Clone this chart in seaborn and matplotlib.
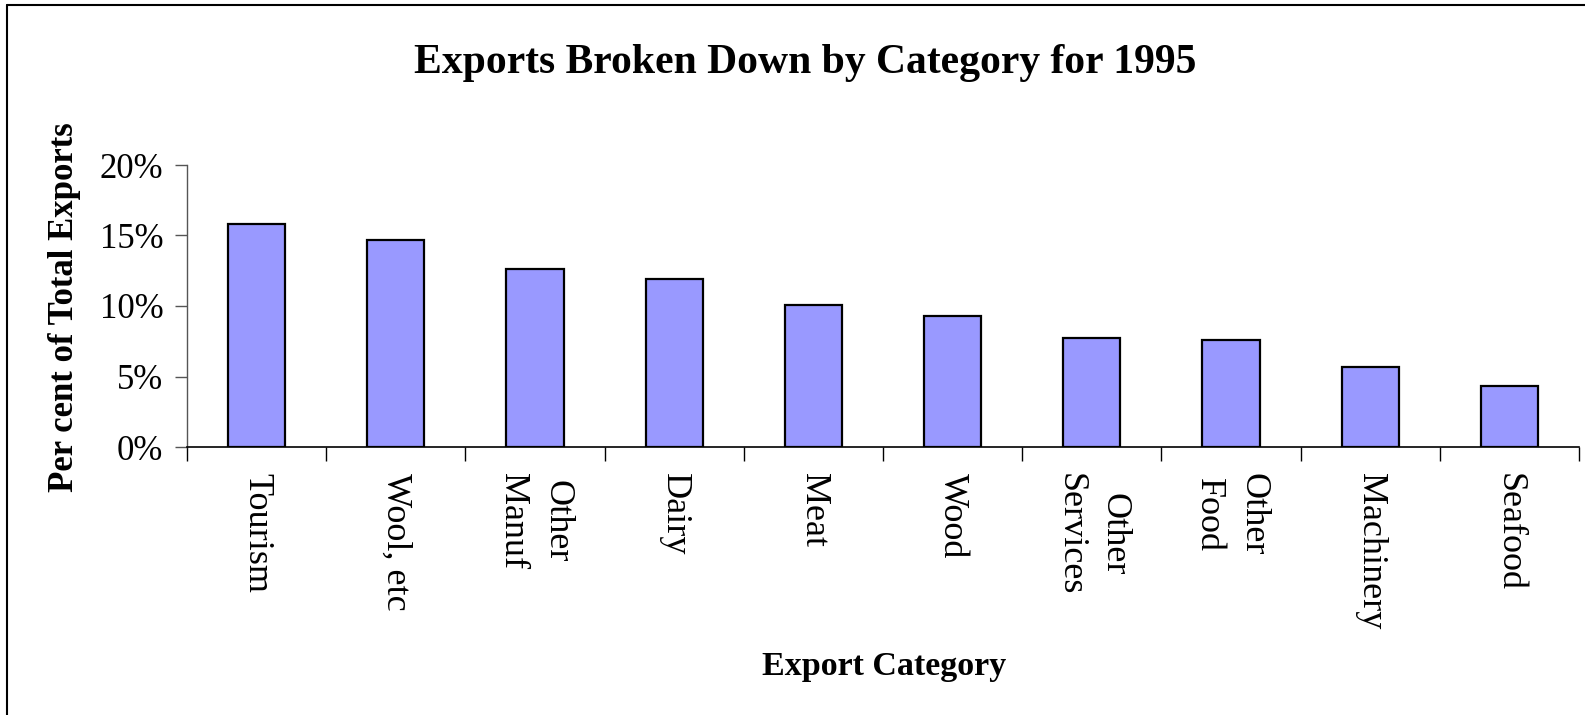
import matplotlib
matplotlib.use("Agg")
import matplotlib.pyplot as plt
from matplotlib.lines import Line2D
from matplotlib.ticker import FuncFormatter
import seaborn as sns
import pandas as pd
import numpy as np

categories = ["Tourism", "Wool, etc", "Other\nManuf", "Dairy", "Meat", "Wood",
              "Other\nServices", "Other\nFood", "Machinery", "Seafood"]
values = [15.8, 14.7, 12.6, 11.9, 10.1, 9.3, 7.7, 7.6, 5.7, 4.3]
y_ticks = [0, 5, 10, 15, 20]

sns.set_theme(style="white")
plt.rcParams["font.family"] = ["Liberation Serif", "DejaVu Serif"]
plt.rcParams["text.color"] = "black"
plt.rcParams["xtick.color"] = "black"
plt.rcParams["ytick.color"] = "black"
plt.rcParams["axes.labelcolor"] = "black"

df = pd.DataFrame({"category": categories, "value": values})

W, H = 1585, 715
fig = plt.figure(figsize=(W / 100, H / 100), dpi=100)
ax = fig.add_axes([187 / W, 1 - 447 / H, (1579 - 187) / W, (447 - 165) / H])

sns.barplot(data=df, x="category", y="value", ax=ax, color="#9999FF",
            saturation=1, width=0.41, edgecolor="black", linewidth=1.6)

ax.set_xlim(-0.5, len(categories) - 0.5)
ax.set_ylim(0, 20)
ax.set_yticks(y_ticks)
ax.yaxis.set_major_formatter(FuncFormatter(lambda v, p: f"{v:.0f}%"))

n = len(categories)
ax.set_xticks(np.arange(n + 1) - 0.5)
ax.set_xticklabels([""] * (n + 1))
ax.set_xticks(np.arange(n), minor=True)
ax.set_xticklabels(categories, minor=True, rotation=270, fontsize=26,
                   ha="center", va="top", multialignment="center", linespacing=1.45)
ax.tick_params(axis="x", which="major", length=10, width=1, color="black", direction="out", bottom=True)
ax.tick_params(axis="x", which="minor", length=0, pad=19)
ax.tick_params(axis="y", which="major", length=9, width=1, color="#555555",
               direction="out", left=True, labelsize=25, pad=8)

for s in ["top", "right"]:
    ax.spines[s].set_visible(False)
ax.spines["left"].set_color("#555555")
ax.spines["left"].set_linewidth(1)
ax.spines["bottom"].set_color("black")
ax.spines["bottom"].set_linewidth(1.2)

ax.set_xlabel("")
ax.set_ylabel("")
fig.text(884 / W, 1 - 667 / H, "Export Category", ha="center", va="center",
         fontsize=24.5, fontweight="bold", color="black")
fig.text(65 / W, 1 - 307 / H, "Per cent of Total Exports", ha="center", va="center",
         rotation=90, fontsize=25, fontweight="bold", color="black")
fig.text(805 / W, 1 - 63 / H, "Exports Broken Down by Category for 1995",
         ha="center", va="center", fontsize=30, fontweight="bold", color="black")

# figure border (left and top visible)
fig.add_artist(Line2D([7 / W, 7 / W], [0, 1 - 5 / H], transform=fig.transFigure,
                      color="black", lw=1.5))
fig.add_artist(Line2D([7 / W, 1], [1 - 5 / H, 1 - 5 / H], transform=fig.transFigure,
                      color="black", lw=1.5))

fig.savefig("out.png", dpi=100, facecolor="white")
